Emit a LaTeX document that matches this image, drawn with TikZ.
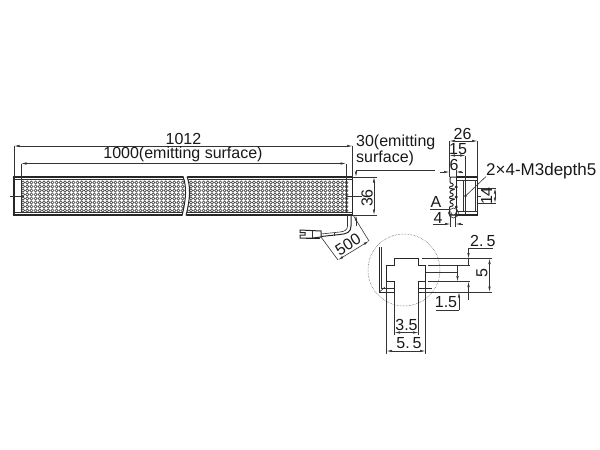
\documentclass[tikz,border=0pt]{standalone}
\usepackage{fontspec}
\setmainfont{Liberation Sans}
\usetikzlibrary{arrows.meta}
\tikzset{
  x=1pt,y=-1pt,
  thin line/.style={line width=0.6pt,black!80},
  body line/.style={line width=1pt,black!85},
  heavy line/.style={line width=1.3pt,black!85},
  dim line/.style={line width=0.6pt,black!80},
  tip both/.style={{Latex[length=5.5pt,width=2.4pt]}-{Latex[length=5.5pt,width=2.4pt]}},
  tip end/.style={-{Latex[length=5.5pt,width=2.4pt]}},
  label text/.style={inner sep=0pt,font=\fontsize{16}{16}\selectfont,black!90},
  wide text/.style={inner sep=0pt,font=\fontsize{17}{17}\selectfont,black!90},
  led/.style={line width=0.7pt,black!70},
}
\begin{document}
\begin{tikzpicture}
\useasboundingbox (0,0) rectangle (600,450);
% LED field
\foreach \c in {0,...,77}{
  \foreach \r in {0,...,7}{
    \draw[led] ({23+\c*4.2},{182.5+\r*4}) circle (1.6);
  }
}
% housing
\draw[heavy line] (14,177) rectangle (352.5,215);
\draw[thin line] (14,179.5) -- (352.5,179.5);
\draw[thin line] (14,212.5) -- (352.5,212.5);
\draw[thin line] (346,180) -- (346,212);
\draw[thin line] (21,180) -- (21,212);
% break
\fill[white] (183,175) .. controls (187,187) and (186,200) .. (182,217) -- (186,217) .. controls (190,200) and (191,187) .. (187,175) -- cycle;
\draw[body line] (183,176.5) .. controls (187,187) and (186,200) .. (182,215.5);
\draw[body line] (187,176.5) .. controls (191,187) and (190,200) .. (186,215.5);
% centre lines
\draw[thin line] (10,196) -- (24,196);
\draw[thin line] (346,196) -- (362,196);
% top dims
\draw[dim line] (14,146) -- (14,177);
\draw[dim line] (352.5,146) -- (352.5,177);
\draw[dim line,tip both] (14,146) -- (352.5,146);
\draw[dim line] (21,163.5) -- (21,181);
\draw[dim line] (346,163.5) -- (346,181);
\draw[dim line,tip both] (21,163.5) -- (346,163.5);
\node[label text] (t1012) at (183.5,138.5) {1012};
\node[label text] (t1000) at (183,154.5) {1000(emitting surface)};
% 30 dim
\draw[dim line] (356,170) -- (435,170);
\draw[dim line,tip end] (356,170) -- (356,177);
\draw[dim line,tip end] (356,226) -- (356,215);
\node[label text,anchor=west] (t30a) at (356,142.5) {30(emitting};
\node[label text,anchor=west] (t30b) at (356,158.5) {surface)};
% 36 dim
\draw[dim line] (352.5,177) -- (376.5,177);
\draw[dim line] (352.5,215) -- (376.5,215);
\draw[dim line,tip both] (374,177) -- (374,215);
\node[label text,rotate=90] (t36) at (367,198) {36};
% cable
\draw[body line] (351,215) -- (351,226) .. controls (351,232) and (347,234) .. (340,234.5) -- (321,236.5);
\draw[thin line] (347.5,215) -- (347.5,226) .. controls (347.5,229.5) and (345,231.5) .. (340,232) -- (321,234);
\draw[thin line] (334,232.5) -- (334,235.5);
% connector
\draw[body line] (300,230) -- (321,231) -- (321,237) -- (313,238) -- (300,238) -- (300,235) -- (305,235) -- (305,232.5) -- (300,232.5) -- cycle;
\draw[heavy line] (306,238.8) -- (320,238.8);
\draw[thin line] (312,231) -- (312,238);
% 500 dim
\draw[dim line] (353,215) -- (369,241);
\draw[dim line] (321,237) -- (338,260);
\draw[dim line,tip both] (338,260) -- (369,241);
\node[label text,rotate=32] (t500) at (348,244.5) {500};
% side view body
\draw[heavy line] (456,177) -- (477.5,177) -- (477.5,215) -- (456,215);
\draw[thin line] (456,180.5) -- (477.5,180.5);
\draw[thin line] (456,211.5) -- (477.5,211.5);
\draw[thin line] (475.5,180.5) -- (475.5,211.5);
\draw[thin line] (463.5,180.5) -- (463.5,211.5);
\draw[thin line] (465.5,177) -- (465.5,215);
\draw[body line] (456,177) -- (456,215);
% side view teeth and slots
\draw[body line,rounded corners=0.8pt] (456,177) -- (450,177) -- (450,183) -- (453,183.5) -- (453,186) -- (449.5,186.5)
  -- (449.5,188.5) -- (455,189) -- (450,191) -- (450,193) -- (453,193.5) -- (453,196) -- (449.5,196.5)
  -- (449.5,198.5) -- (455,199) -- (450,201) -- (450,203) -- (453,203.5) -- (453,206) -- (449.5,206.5)
  -- (449.5,215) -- (456,215);
\fill[black!85] (456.3,187) circle (1.6);
\fill[black!85] (456.3,197) circle (1.6);
\fill[black!85] (456.3,207) circle (1.6);
\draw[thin line] (453.5,213) circle (5);
\draw[thin line] (451,217) -- (451,212.5) arc[start angle=180,end angle=0,radius=2.5] -- (456,217);
% side dims
\draw[dim line] (449.5,141) -- (449.5,177);
\draw[dim line] (477.5,141) -- (477.5,177);
\draw[dim line,tip both] (449.5,141) -- (477.5,141);
\node[label text] (t26) at (462.5,134) {26};
\draw[dim line] (465.5,155.5) -- (465.5,177);
\draw[dim line,tip both] (449.5,155.5) -- (465.5,155.5);
\node[label text] (t15) at (458,149.5) {15};
\draw[dim line,tip end] (440,172) -- (449.5,172);
\draw[dim line,tip end] (463,172) -- (456,172);
\draw[dim line] (456,170) -- (456,177);
\node[label text] (t6) at (454,164.5) {6};
% hole and leader
\fill[black!85] (465.5,196) circle (1.4);
\draw[dim line] (465.5,196) -- (486,176.5);
\node[wide text,anchor=west] (tm3) at (486,171.5) {2×4-M3depth5};
% 14 dim
\draw[dim line] (477.5,188) -- (496,188);
\draw[dim line] (477.5,203) -- (496,203);
\draw[dim line] (477.5,196) -- (481,196);
\draw[dim line,tip both] (495,188) -- (495,203);
\node[label text,rotate=90] (t14) at (486.5,196) {14};
% A and 4
\node[label text] (tA) at (436,202) {A};
\draw[dim line] (430,209) -- (450,209);
\node[label text] (t4) at (438,217.5) {4};
\draw[dim line] (450.5,214) -- (450.5,227);
\draw[dim line] (455.5,214) -- (455.5,227);
\draw[dim line,tip end] (433,224) -- (450.5,224);
\draw[dim line,tip end] (463,224) -- (455.5,224);
% section detail
\draw[line width=0.5pt,black!75,densely dotted] (404,270) circle (36);
\draw[body line] (379.5,247) -- (379.5,292) -- (394.5,292);
\draw[thin line] (381.5,247) -- (381.5,288.5) -- (394.5,288.5);
\draw[thin line] (379.5,292) -- (385,287);
\draw[heavy line] (394.5,292.5) -- (394.5,281.5) -- (386.5,281.5) -- (386.5,265.5) -- (394.5,265.5) -- (394.5,258.5) -- (418.5,258.5) -- (418.5,265.5) -- (425.5,265.5) -- (425.5,281.5) -- (418.5,281.5) -- (418.5,292.5);
\draw[body line] (418.5,288.5) -- (432,288.5);
\draw[body line] (418.5,292) -- (432,292);
% section dims
\draw[dim line] (422,258.5) -- (492,258.5);
\draw[dim line] (428,265.5) -- (470,265.5);
\draw[dim line] (425.5,272.5) -- (458,272.5);
\draw[dim line] (428,281.5) -- (470,281.5);
\draw[dim line] (422,292) -- (492,292);
\draw[dim line,tip both] (489.5,258.5) -- (489.5,292);
\node[label text,rotate=90] (t5) at (482,273) {5};
\draw[dim line] (468.5,248) -- (493,248);
\draw[dim line,tip end] (468.5,248) -- (468.5,258.5);
\draw[dim line] (468.5,265.5) -- (468.5,258.5);
\node[label text,anchor=south west] (t25) at (470,247) {\spaceskip=1.5pt 2. 5};
\draw[dim line,tip end] (468.5,300) -- (468.5,281.5);
\draw[dim line,tip end] (457.5,265.5) -- (457.5,281.5);
\draw[dim line] (436,310) -- (459,310);
\draw[dim line,tip end] (459,310) -- (459,292);
\node[label text] (t15b) at (446,302.5) {1.5};
% bottom dims
\draw[dim line] (394.5,292) -- (394.5,335);
\draw[dim line] (418.5,292) -- (418.5,335);
\draw[dim line,tip both] (394.5,332.5) -- (418.5,332.5);
\node[label text] (t35) at (406.5,325) {3.5};
\draw[dim line] (386.5,282) -- (386.5,354);
\draw[dim line] (425.5,282) -- (425.5,354);
\draw[dim line,tip both] (386.5,351) -- (425.5,351);
\node[label text] (t55) at (409,343) {\spaceskip=1.5pt 5. 5};
\end{tikzpicture}
\end{document}
